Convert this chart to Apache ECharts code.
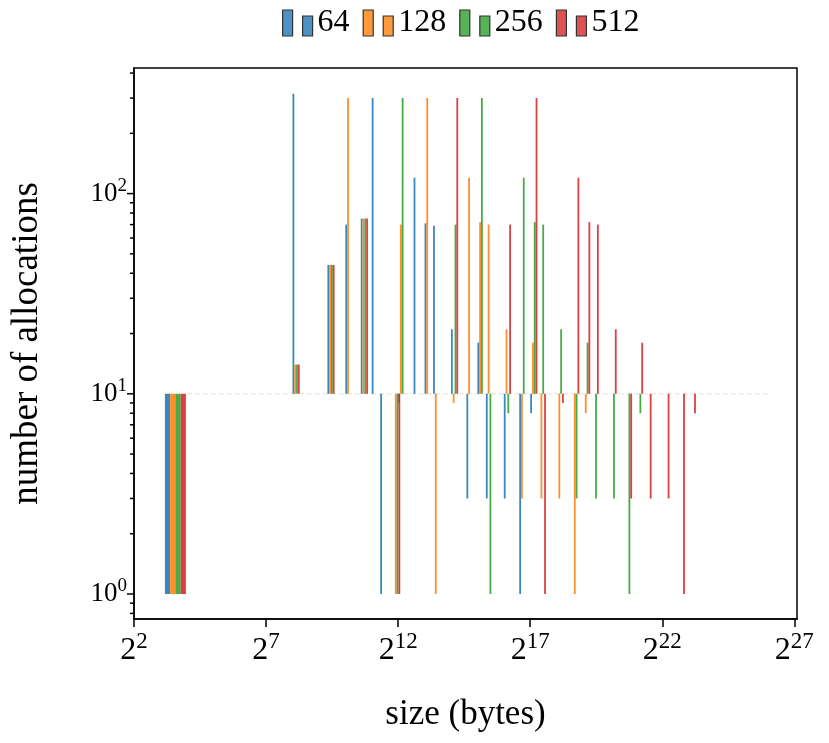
<!DOCTYPE html>
<html>
<head>
<meta charset="utf-8">
<script src="https://cdn.jsdelivr.net/npm/echarts@6/dist/echarts.min.js"></script>
<style>
  html, body { margin: 0; padding: 0; background: #fff; }
  #main { width: 829px; height: 743px; }
</style>
</head>
<body>
<div id="main"></div>
<script>
// legend names and colours
var seriesNames = ['64', '128', '256', '512'];
var seriesColors = ['#1f77b4', '#ff7f0e', '#2ca02c', '#d62728'];

// allocation size (bytes) -> number of allocations, one pair of arrays per series
var sizes64 = [9, 256, 640, 1024, 1536, 2048, 2560, 4096, 6144, 8192, 10240, 16384, 24576, 32768, 40960, 65536, 98304, 131072];
var counts64 = [1, 315, 44, 70, 75, 300, 1, 9, 120, 71, 69, 21, 3, 18, 3, 3, 1, 8];

var sizes128 = [9, 256, 640, 1024, 1536, 3584, 4096, 8192, 10240, 16384, 24576, 32768, 40960, 65536, 98304, 131072, 163840, 262144, 393216, 524288];
var counts128 = [1, 14, 44, 300, 75, 1, 70, 300, 1, 9, 120, 72, 70, 21, 3, 18, 3, 3, 1, 8];

var sizes256 = [9, 256, 640, 1536, 3584, 4096, 16384, 32768, 40960, 65536, 98304, 131072, 163840, 262144, 393216, 524288, 655360, 1048576, 1572864, 2097152];
var counts256 = [1, 14, 44, 75, 1, 300, 70, 300, 1, 8, 120, 72, 70, 21, 3, 18, 3, 3, 1, 8];

var sizes512 = [9, 256, 640, 1536, 3584, 16384, 65536, 131072, 163840, 262144, 393216, 524288, 655360, 1048576, 1572864, 2097152, 2621440, 4194304, 6291456, 8388608];
var counts512 = [1, 14, 44, 75, 1, 300, 70, 300, 1, 9, 120, 72, 70, 21, 3, 18, 3, 3, 1, 8];

var allSizes = [sizes64, sizes128, sizes256, sizes512];
var allCounts = [counts64, counts128, counts256, counts512];

// bars grow from this count (up or down)
var baseline = 10;
// empty bins drawn along the baseline (bytes)
var baselineSpan = [16, 67108864];

// axis ticks
var xTickExps = [2, 7, 12, 17, 22, 27];
var yTickExps = [0, 1, 2];
var yMinorTicks = [0.8, 0.9, 2, 3, 4, 5, 6, 7, 8, 9, 20, 30, 40, 50, 60, 70, 80, 90, 200, 300, 400];

var xRange = [4, Math.pow(2, 27.1)];
var yRange = [0.75, 424];

var font = 'Liberation Serif';
var thinBar = 1.8;
var wideBar = 5.25;

function rgba(hex, a) {
    var n = parseInt(hex.slice(1), 16);
    return 'rgba(' + (n >> 16) + ',' + ((n >> 8) & 255) + ',' + (n & 255) + ',' + a + ')';
}

var myChart = echarts.init(document.getElementById('main'));

var series = allSizes.map(function (sizes, idx) {
    var data = sizes.map(function (s, j) {
        return [Math.log2(s), Math.log10(allCounts[idx][j])];
    });
    return {
        name: seriesNames[idx],
        type: 'custom',
        itemStyle: { color: seriesColors[idx] },
        data: data,
        renderItem: function (params, api) {
            var xv = api.value(0);
            var top = api.coord([xv, api.value(1)]);
            var base = api.coord([xv, Math.log10(baseline)]);
            var w = Math.pow(2, xv) < 16 ? wideBar : thinBar;
            return {
                type: 'rect',
                shape: {
                    x: top[0] + idx * w,
                    y: Math.min(top[1], base[1]),
                    width: w,
                    height: Math.abs(base[1] - top[1])
                },
                style: { fill: rgba(seriesColors[idx], 0.88) }
            };
        },
        z: 3
    };
});

// faint line of empty bins
series.push({
    name: 'empty',
    type: 'custom',
    silent: true,
    data: [[Math.log2(baselineSpan[0]), Math.log2(baselineSpan[1]), Math.log10(baseline)]],
    renderItem: function (params, api) {
        var a = api.coord([api.value(0), api.value(2)]);
        var b = api.coord([api.value(1), api.value(2)]);
        return {
            type: 'line',
            shape: { x1: a[0], y1: a[1], x2: b[0], y2: b[1] },
            style: { stroke: '#eee8e2', lineWidth: 1.5, lineDash: [5, 3] }
        };
    },
    z: 2
});

var supRich = {
    b: { fontFamily: font, fontSize: 32, color: '#000' },
    s: { fontFamily: font, fontSize: 23, color: '#000', padding: [0, 0, 18, 0] }
};
var supRichY = {
    b: { fontFamily: font, fontSize: 27, color: '#000' },
    s: { fontFamily: font, fontSize: 19, color: '#000', padding: [0, 0, 15, 0] }
};

myChart.setOption({
    animation: false,
    legend: {
        left: 277,
        top: 2,
        itemWidth: 30,
        itemHeight: 26,
        itemGap: 13,
        textStyle: { fontFamily: font, fontSize: 32, color: '#000' },
        data: seriesNames.map(function (n, i) {
            return {
                name: n,
                icon: 'path://M0,0H10V26H0Z M20,6H30V26H20Z',
                itemStyle: { color: rgba(seriesColors[i], 0.8), borderColor: '#333', borderWidth: 1.2 }
            };
        })
    },
    grid: {
        left: 134, right: 32, top: 68, bottom: 124,
        show: true, borderColor: '#000', borderWidth: 1.5
    },
    xAxis: {
        type: 'value',
        min: Math.log2(xRange[0]),
        max: Math.log2(xRange[1]),
        name: 'size (bytes)',
        nameLocation: 'middle',
        nameGap: 78,
        nameTextStyle: { fontFamily: font, fontSize: 35, color: '#000' },
        axisLine: { show: true, onZero: false, lineStyle: { color: '#000', width: 1.5 } },
        axisTick: { show: true, customValues: xTickExps, length: 8, lineStyle: { color: '#000', width: 1.5 } },
        axisLabel: {
            customValues: xTickExps,
            margin: 11,
            formatter: function (v) { return '{b|2}{s|' + v + '}'; },
            rich: supRich
        },
        splitLine: { show: false }
    },
    yAxis: {
        type: 'value',
        min: Math.log10(yRange[0]),
        max: Math.log10(yRange[1]),
        name: 'number of allocations',
        nameLocation: 'middle',
        nameGap: 88,
        nameTextStyle: { fontFamily: font, fontSize: 37, color: '#000' },
        axisLine: { show: true, onZero: false, lineStyle: { color: '#000', width: 1.5 } },
        axisTick: { show: false },
        axisLabel: {
            customValues: yTickExps,
            margin: 7,
            formatter: function (v) { return '{b|10}{s|' + v + '}'; },
            rich: supRichY
        },
        splitLine: { show: false }
    },
    series: series
});

// y tick marks (major + minor), placed through the y axis' own scale
var plotLeft = myChart.convertToPixel({ xAxisIndex: 0 }, Math.log2(xRange[0]));
var tickMarks = [];
function tickLine(y, len) {
    tickMarks.push({
        type: 'line',
        silent: true,
        z: 100,
        shape: { x1: plotLeft - len, y1: y, x2: plotLeft, y2: y },
        style: { stroke: '#000', lineWidth: 1.5 }
    });
}
yTickExps.forEach(function (e) {
    tickLine(myChart.convertToPixel({ yAxisIndex: 0 }, e), 7);
});
yMinorTicks.forEach(function (v) {
    tickLine(myChart.convertToPixel({ yAxisIndex: 0 }, Math.log10(v)), 4);
});
myChart.setOption({ graphic: tickMarks });
</script>
</body>
</html>
